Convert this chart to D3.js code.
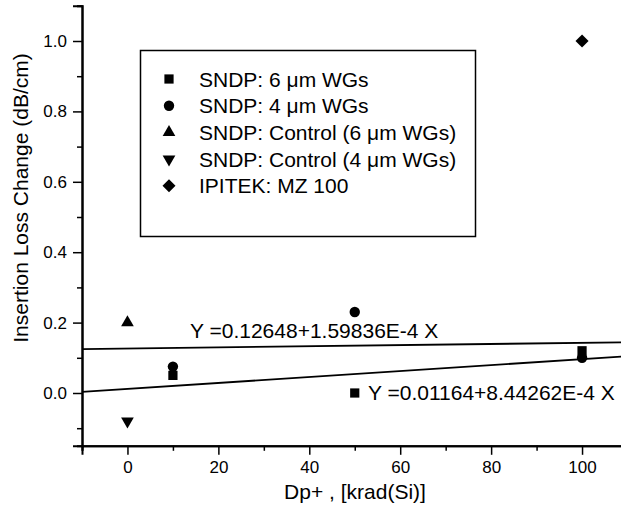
<!DOCTYPE html>
<html>
<head>
<meta charset="utf-8">
<script src="https://cdn.jsdelivr.net/npm/d3@7"></script>
<style>
  body { margin: 0; background: #fff; }
  text { font-family: "Liberation Sans", Arial, sans-serif; fill: #000; }
</style>
</head>
<body>
<div id="chart"></div>
<script>
// series
const sq6 = [{ x: 10, y: 0.05 }, { x: 50, y: 0.0 }, { x: 100, y: 0.12 }];
const circ4 = [{ x: 10, y: 0.075 }, { x: 50, y: 0.23 }, { x: 100, y: 0.10 }];
const ctrl6 = [{ x: 0, y: 0.2 }];
const ctrl4 = [{ x: 0, y: -0.08 }];
const ipitek = [{ x: 100, y: 1.0 }];

const legendLabels = [
  "SNDP: 6 \u03bcm WGs",
  "SNDP: 4 \u03bcm WGs",
  "SNDP: Control (6 \u03bcm WGs)",
  "SNDP: Control (4 \u03bcm WGs)",
  "IPITEK: MZ 100"
];

const fit4 = { a: 0.12648, b: 1.59836e-4, label: "Y =0.12648+1.59836E-4 X" };
const fit6 = { a: 0.01164, b: 8.44262e-4, label: "Y =0.01164+8.44262E-4 X" };

const xTicks = [0, 20, 40, 60, 80, 100];
const xMinor = [-10, 10, 30, 50, 70, 90, 110];
const yTicks = [0, 0.2, 0.4, 0.6, 0.8, 1.0];
const yMinor = [-0.1, 0.1, 0.3, 0.5, 0.7, 0.9, 1.1];

const W = 621, H = 518;
const svg = d3.select("#chart").append("svg")
  .attr("width", W).attr("height", H);

const x = d3.scaleLinear().domain([-10, 110]).range([82, 627.5]);
const y = d3.scaleLinear().domain([-0.15, 1.1]).range([445.8, 5.8]);

// axes
const xAxis = svg.append("g")
  .attr("transform", `translate(0,${y(-0.15)})`)
  .call(d3.axisBottom(x).tickValues(xTicks).tickSize(9).tickPadding(6).tickFormat(d3.format("d")));
xAxis.append("g").call(d3.axisBottom(x).tickValues(xMinor).tickSize(5).tickFormat(""));

const yAxis = svg.append("g")
  .attr("transform", `translate(${x(-10)},0)`)
  .call(d3.axisLeft(y).tickValues(yTicks).tickSize(9).tickPadding(6).tickFormat(d3.format(".1f")));
yAxis.append("g").call(d3.axisLeft(y).tickValues(yMinor).tickSize(5).tickFormat(""));

svg.selectAll(".domain").attr("stroke", "#000").attr("stroke-width", 2);
svg.selectAll(".tick line").attr("stroke", "#000").attr("stroke-width", 1.5);
svg.selectAll(".tick text").style("font-size", "17px").style("font-family", "Liberation Sans, Arial, sans-serif");
// minor-tick groups keep no domain line of their own
xAxis.select("g").select(".domain").remove();
yAxis.select("g").select(".domain").remove();

// axis titles
svg.append("text")
  .attr("x", 355).attr("y", 499)
  .attr("text-anchor", "middle")
  .style("font-size", "21px")
  .text("Dp+ , [krad(Si)]");

svg.append("text")
  .attr("transform", "translate(28,198) rotate(-90)")
  .attr("text-anchor", "middle")
  .style("font-size", "21px")
  .text("Insertion Loss Change (dB/cm)");

// fit lines
[fit4, fit6].forEach((f) => {
  svg.append("path")
    .datum([-10, 110])
    .attr("d", d3.line().x((d) => x(d)).y((d) => y(f.a + f.b * d)))
    .attr("fill", "none")
    .attr("stroke", "#000")
    .attr("stroke-width", 1.8);
});

// markers
const sym = (type, size) => d3.symbol().type(type).size(size)();
const series = [
  { data: sq6, path: sym(d3.symbolSquare, 85), rot: 0 },
  { data: circ4, path: sym(d3.symbolCircle, 85), rot: 0 },
  { data: ctrl6, path: sym(d3.symbolTriangle, 70), rot: 0 },
  { data: ctrl4, path: sym(d3.symbolTriangle, 70), rot: 180 },
  { data: ipitek, path: sym(d3.symbolSquare, 85), rot: 45 }
];

series.forEach((s) => {
  svg.append("g").selectAll("path")
    .data(s.data)
    .join("path")
    .attr("d", s.path)
    .attr("transform", (d) => `translate(${x(d.x)},${y(d.y)}) rotate(${s.rot})`)
    .attr("fill", "#000");
});

// fit labels
svg.append("text")
  .attr("x", 190).attr("y", 338)
  .style("font-size", "21px")
  .text(fit4.label);

svg.append("text")
  .attr("x", 368).attr("y", 400)
  .style("font-size", "21px")
  .text(fit6.label);

// legend
const legend = svg.append("g");
legend.append("rect")
  .attr("x", 140.5).attr("y", 50.5)
  .attr("width", 335).attr("height", 186)
  .attr("fill", "none")
  .attr("stroke", "#000")
  .attr("stroke-width", 1.5);

legendLabels.forEach((lab, i) => {
  const cy = 79 + i * 26.7;
  const s = series[i];
  legend.append("path")
    .attr("d", s.path)
    .attr("transform", `translate(169,${cy}) rotate(${s.rot})`)
    .attr("fill", "#000");
  legend.append("text")
    .attr("x", 199).attr("y", cy)
    .attr("dy", "0.36em")
    .style("font-size", "21px")
    .text(lab);
});
</script>
</body>
</html>
